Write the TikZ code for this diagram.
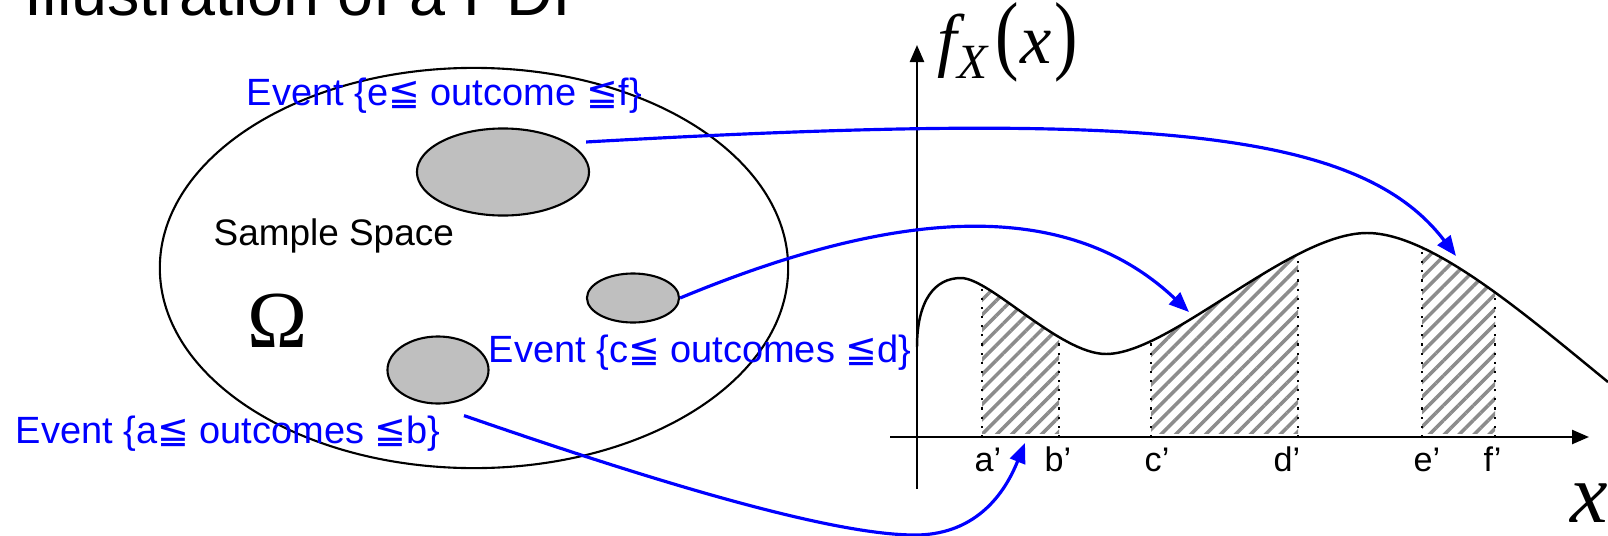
\documentclass[tikz,border=0pt]{standalone}
\usepackage{fontspec}
\usepackage{graphicx}
\setmainfont{Liberation Sans}
\newfontfamily\tmsfont{Liberation Serif}
\newfontfamily\symfont{DejaVu Sans}
\usetikzlibrary{positioning,arrows.meta,shapes.geometric,patterns.meta}
\newcommand{\evleq}{{\symfont ≦}}

\begin{document}
\begin{tikzpicture}[
  x=0.01cm,y=-0.01cm,
  event/.style={ellipse,draw=black,line width=0.6pt,fill=black!25,inner sep=0pt},
  evlabel/.style={anchor=base west,inner sep=0pt,text=blue,font=\fontsize{10.8}{12}\selectfont},
  maparrow/.style={-{Triangle[length=2mm,width=1.6mm]},blue,line width=0.9pt},
  axis/.style={-{Triangle[length=1.7mm,width=1.4mm]},line width=0.7pt},
  cut/.style={anchor=base west,inner sep=0pt,font=\fontsize{9.7}{11}\selectfont},
  hatch/.style={pattern={Lines[angle=45,distance=3pt,line width=1pt]},pattern color=black!45}
]
\useasboundingbox (0,0) rectangle (1608,536);

\node[anchor=base west,inner sep=0pt,font=\fontsize{18.4}{20}\selectfont] (title) at (24,15) {Illustration of a PDF};

% sample space and events
\node[ellipse,draw,line width=0.6pt,inner sep=0pt,minimum width=6.28cm,minimum height=4cm] (space) at (474,268) {};
\node[event,minimum width=1.72cm,minimum height=0.87cm] (evE) at (503,172) {};
\node[event,minimum width=0.92cm,minimum height=0.49cm] (evC) at (633,298) {};
\node[event,minimum width=1.01cm,minimum height=0.67cm] (evA) at (438,370) {};

\node[anchor=base west,inner sep=0pt,font=\fontsize{10.5}{12}\selectfont] (ss) at (213,245) {Sample Space};
\node[anchor=base west,inner sep=0pt,font=\tmsfont\fontsize{23}{26}\selectfont] (omega) at (247,347) {Ω};

\node[evlabel] (labE) at (246,105) {Event \{e\evleq{} outcome \evleq f\}};
\node[evlabel] (labC) at (488,362) {Event \{c\evleq{} outcomes \evleq d\}};
\node[evlabel] (labA) at (15,443) {Event \{a\evleq{} outcomes \evleq b\}};

% axes
\coordinate (ybot) at (917,489);
\coordinate (ytop) at (917,45);
\coordinate (xleft) at (890,437);
\coordinate (xright) at (1589,437);
\draw[axis] (ybot) -- (ytop);
\draw[axis] (xleft) -- (xright);

\node[anchor=base west,inner sep=0pt] (fx) at (937,63) {\tmsfont\fontsize{20}{22}\selectfont\itshape f\raisebox{-0.15cm}{\fontsize{14}{16}\selectfont X}\hspace{0.08cm}\upshape\scalebox{1}[1.25]{(}\hspace{0.02cm}\itshape x\hspace{0.03cm}\upshape\scalebox{1}[1.25]{)}};
\node[anchor=base west,inner sep=0pt] (xlab) at (1570,522) {\tmsfont\itshape\fontsize{24}{26}\selectfont x};

% shaded areas under the density
\begin{scope}
\clip (917,347) .. controls (917,300) and (935,278) .. (961,278)
  .. controls (990,278) and (1060,354) .. (1106,354)
  .. controls (1170,354) and (1290,233) .. (1367,233)
  .. controls (1430,233) and (1520,310) .. (1608,382)
  -- (1608,437) -- (917,437) -- cycle;
\fill[hatch] (982,433) rectangle (1059,150);
\fill[hatch] (1151,433) rectangle (1298,150);
\fill[hatch] (1422,433) rectangle (1495,150);
\foreach \xx in {982,1059,1151,1298,1422,1495}
  \draw[dotted,line width=0.6pt] (\xx,437) -- (\xx,150);
\end{scope}

\draw[line width=0.7pt] (917,347) .. controls (917,300) and (935,278) .. (961,278)
  .. controls (990,278) and (1060,354) .. (1106,354)
  .. controls (1170,354) and (1290,233) .. (1367,233)
  .. controls (1430,233) and (1520,310) .. (1608,382);

\node[cut] (la) at (974,471) {a’};
\node[cut] (lb) at (1044,471) {b’};
\node[cut] (lc) at (1144,471) {c’};
\node[cut] (ld) at (1273,471) {d’};
\node[cut] (le) at (1413,471) {e’};
\node[cut] (lf) at (1483,471) {f’};

% mapping arrows
\coordinate (tipE) at (1456,256);
\coordinate (tipC) at (1189,312);
\coordinate (tipA) at (1025,443);
\draw[maparrow] ([xshift=-0.04cm,yshift=0.3cm]evE.east) .. controls (1150,110) and (1360,130) .. (tipE);
\draw[maparrow] (evC.east) .. controls (880,215) and (1060,190) .. (tipC);
\draw[maparrow] ([xshift=0.26cm,yshift=-0.11cm]evA.south) .. controls (650,480) and (830,535) .. (915,535)
  .. controls (985,535) and (1010,480) .. (tipA);

\end{tikzpicture}
\end{document}
